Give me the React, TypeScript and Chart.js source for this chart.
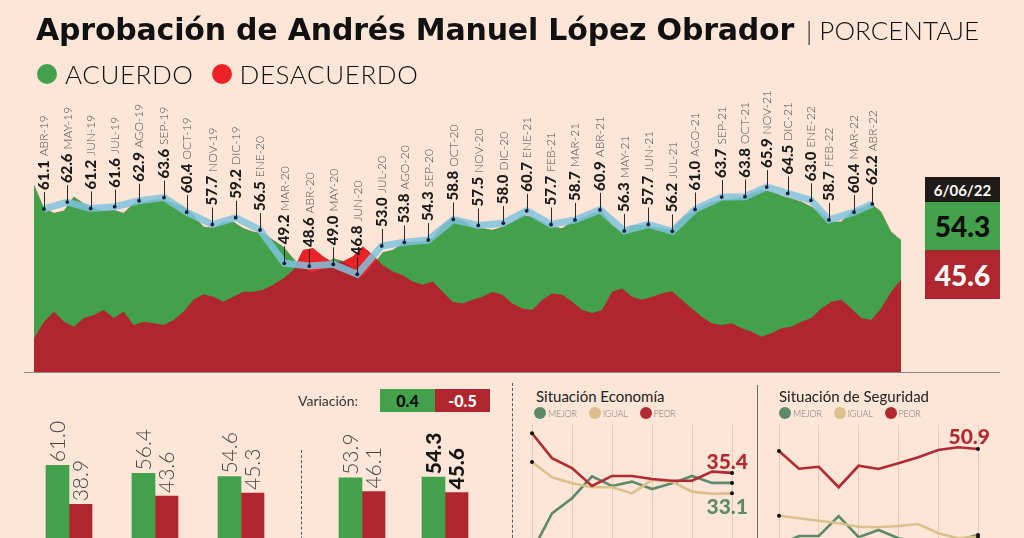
import React, { useEffect, useRef } from 'react';
import { Chart, registerables } from 'chart.js';

Chart.register(...registerables);

// ---------------- DATA ----------------
// Seguimiento diario (muestreado) de aprobación / desaprobación
const acuerdo = [
  66.4, 61.3, 60.2, 60.7, 63.8, 62.3, 61.3, 60.7, 60.9, 60.2, 62.3, 62.7, 63.1, 63.3, 62.3, 61.6, 59.8, 57.2, 57.0, 58.3, 58.3, 56.9,
  56.1, 55.8, 54.3, 52.9, 50.3, 48.1, 47.0, 48.1, 50.3, 49.7, 48.1, 46.3, 48.8, 51.6, 52.1, 53.6, 53.9, 53.9, 54.7, 57.6, 59.1, 58.7,
  57.2, 56.9, 56.5, 57.2, 58.3, 59.8, 59.4, 58.3, 57.2, 56.9, 58.3, 59.1, 60.2, 60.5, 57.6, 56.1, 57.6, 57.6, 57.2, 56.9, 56.5, 59.1,
  60.5, 61.6, 62.7, 63.1, 63.3, 63.6, 64.5, 65.3, 64.9, 64.0, 63.4, 62.7, 61.6, 60.2, 58.3, 58.3, 60.5, 61.3, 62.3, 60.5, 56.1, 54.3,
];
const desacuerdo = [
  32.8, 36.4, 38.6, 36.4, 35.3, 37.2, 37.9, 39.0, 37.2, 38.6, 35.7, 36.4, 36.1, 35.7, 36.8, 38.6, 41.2, 42.4, 41.9, 40.8, 41.9, 43.0,
  43.0, 43.4, 44.5, 45.9, 47.7, 52.1, 52.5, 50.7, 49.4, 49.6, 50.7, 52.9, 51.0, 48.8, 47.4, 46.6, 45.2, 44.5, 45.2, 43.0, 40.8, 40.4,
  41.2, 41.9, 43.0, 42.3, 40.4, 39.3, 39.0, 41.2, 42.6, 42.3, 40.8, 39.0, 38.3, 39.0, 43.0, 43.7, 41.9, 41.2, 41.9, 42.6, 43.1, 41.2,
  39.3, 37.5, 36.1, 35.7, 36.1, 35.0, 34.2, 33.1, 33.9, 35.0, 35.3, 36.4, 37.2, 39.3, 40.8, 41.2, 39.3, 37.2, 36.8, 39.3, 43.0, 45.6,
];

// Encuesta mensual
const mesesEncuesta = [
  'ABR-19', 'MAY-19', 'JUN-19', 'JUL-19', 'AGO-19', 'SEP-19', 'OCT-19', 'NOV-19', 'DIC-19', 'ENE-20',
  'MAR-20', 'ABR-20', 'MAY-20', 'JUN-20', 'JUL-20', 'AGO-20', 'SEP-20', 'OCT-20', 'NOV-20', 'DIC-20',
  'ENE-21', 'FEB-21', 'MAR-21', 'ABR-21', 'MAY-21', 'JUN-21', 'JUL-21', 'AGO-21', 'SEP-21', 'OCT-21',
  'NOV-21', 'DIC-21', 'ENE-22', 'FEB-22', 'MAR-22', 'ABR-22',
];
const aprobacionMensual = [
  61.1, 62.6, 61.2, 61.6, 62.9, 63.6, 60.4, 57.7, 59.2, 56.5,
  49.2, 48.6, 49.0, 46.8, 53.0, 53.8, 54.3, 58.8, 57.5, 58.0,
  60.7, 57.7, 58.7, 60.9, 56.3, 57.7, 56.2, 61.0, 63.7, 63.8,
  65.9, 64.5, 63.0, 58.7, 60.4, 62.2,
];
// periodo del seguimiento en que se levantó cada encuesta
const encuestaPeriodo = [
  1.0, 3.34, 5.69, 8.1, 10.54, 13.04, 15.32, 17.89, 20.24, 22.68,
  25.12, 27.62, 30.03, 32.44, 34.89, 37.16, 39.56, 42.07, 44.58, 47.09,
  49.44, 51.88, 54.28, 56.79, 59.23, 61.64, 64.05, 66.33, 69.0, 71.34,
  73.52, 75.63, 77.96, 79.77, 82.28, 84.12,
];

const fechaCorte = '6/06/22';
const ultimoAcuerdo = 54.3;
const ultimoDesacuerdo = 45.6;
const variacionAcuerdo = '0.4';
const variacionDesacuerdo = '-0.5';

// Barras comparativas
const periodosBarras = ['Periodo 1', 'Periodo 2', 'Periodo 3', 'Periodo 4', 'Periodo 5'];
const barrasAcuerdo = [61.0, 56.4, 54.6, 53.9, 54.3];
const barrasDesacuerdo = [38.9, 43.6, 45.3, 46.1, 45.6];

// Situación economía / seguridad
const sondeos = ['1', '2', '3', '4', '5', '6', '7', '8', '9', '10', '11'];
const econMejor = [17.3, 26.1, 29.6, 34.6, 32.4, 33.4, 31.7, 33.0, 34.7, 33.1, 33.1];
const econIgual = [37.9, 34.4, 33.0, 32.1, 32.1, 30.7, 33.8, 33.4, 31.1, 30.6, 30.7];
const econPeor = [44.5, 38.8, 36.5, 32.4, 34.7, 34.7, 34.0, 33.6, 33.6, 35.7, 35.4];
const segMejor = [12.5, 16.1, 16.1, 24.1, 15.6, 18.5, 15.2, 13.5, 13.0, 14.5, 16.5];
const segIgual = [24.2, 23.2, 22.2, 21.2, 19.8, 19.6, 20.1, 20.9, 17.2, 15.2, 15.8];
const segPeor = [50.1, 43.0, 43.8, 35.6, 44.2, 42.9, 45.2, 47.6, 50.5, 51.6, 50.9];

// ---------------- STYLE ----------------
const BG = '#fde6d7';
const VERDE = '#43a04b';
const ROJO = '#b0262e';
const ROJO_VIVO = '#ec2227';
const AZUL = 'rgba(128,194,222,0.85)';
const C_MEJOR = '#5f8a6a';
const C_IGUAL = '#dcc08b';
const C_PEOR = '#b22a31';
const FONT = 'Lato, "Noto Sans", sans-serif';
const TITLE_FONT = '"DejaVu Sans", Lato, sans-serif';

function ChartCanvas({ make, left, top, width, height }: any) {
  const ref = useRef<HTMLCanvasElement>(null);
  useEffect(() => {
    const c = new Chart(ref.current as HTMLCanvasElement, make());
    return () => c.destroy();
  }, []);
  return (
    <canvas
      ref={ref}
      width={width}
      height={height}
      style={{ position: 'absolute', left, top, width, height }}
    />
  );
}

const ejePlugin = {
  id: 'ejeBase',
  afterDraw(chart: any) {
    const { ctx, chartArea } = chart;
    ctx.save();
    ctx.strokeStyle = '#8d8682';
    ctx.lineWidth = 1;
    ctx.beginPath();
    ctx.moveTo(chartArea.left, chartArea.bottom + 0.5);
    ctx.lineTo(chartArea.right, chartArea.bottom + 0.5);
    ctx.stroke();
    ctx.restore();
  },
};

const etiquetasPlugin = {
  id: 'etiquetasMes',
  afterDatasetsDraw(chart: any) {
    const meta = chart.getDatasetMeta(3);
    const ctx = chart.ctx;
    ctx.save();
    meta.data.forEach((pt: any, i: number) => {
      const x = pt.x;
      const y = pt.y;
      ctx.strokeStyle = '#2a2a2a';
      ctx.lineWidth = 1;
      ctx.beginPath();
      ctx.moveTo(Math.round(x) + 0.5, y);
      ctx.lineTo(Math.round(x) + 0.5, y - 17);
      ctx.stroke();
      ctx.fillStyle = '#14233a';
      ctx.beginPath();
      ctx.arc(x, y, 1.9, 0, Math.PI * 2);
      ctx.fill();
      ctx.save();
      ctx.translate(x, y - 19);
      ctx.rotate(-Math.PI / 2);
      ctx.textAlign = 'left';
      ctx.textBaseline = 'middle';
      ctx.font = `900 15px ${FONT}`;
      ctx.fillStyle = '#1a1a1a';
      const v = aprobacionMensual[i].toFixed(1);
      ctx.fillText(v, 0, 0);
      const w = ctx.measureText(v).width;
      ctx.font = `300 12px ${FONT}`;
      ctx.fillStyle = '#4a4a4a';
      ctx.fillText(mesesEncuesta[i], w + 4, 0.5);
      ctx.restore();
    });
    ctx.restore();
  },
};

const STEP = 9.966;
function mainConfig(): any {
  return {
    type: 'line',
    data: {
      datasets: [
        {
          label: 'Acuerdo',
          data: acuerdo.map((v, i) => ({ x: i, y: v })),
          backgroundColor: VERDE,
          borderColor: 'rgba(0,0,0,0)',
          borderWidth: 0,
          pointRadius: 0,
          fill: 'start',
          order: 4,
        },
        {
          label: 'Desacuerdo',
          data: desacuerdo.map((v, i) => ({ x: i, y: v })),
          backgroundColor: ROJO,
          borderColor: 'rgba(0,0,0,0)',
          borderWidth: 0,
          pointRadius: 0,
          fill: 'start',
          order: 3,
        },
        {
          label: 'Desacuerdo mayor',
          data: desacuerdo.map((v, i) => ({ x: i, y: v })),
          borderColor: 'rgba(0,0,0,0)',
          borderWidth: 0,
          pointRadius: 0,
          fill: { target: 0, above: ROJO_VIVO, below: 'rgba(0,0,0,0)' },
          order: 2,
        },
        {
          label: 'Aprobación mensual',
          data: encuestaPeriodo.map((x, i) => ({ x, y: aprobacionMensual[i] })),
          borderColor: AZUL,
          borderWidth: 7,
          pointRadius: 0,
          fill: false,
          order: 1,
        },
      ],
    },
    options: {
      animation: false,
      responsive: false,
      layout: { padding: { left: 24, right: 24, top: 98, bottom: 8 } },
      elements: { line: { tension: 0 } },
      plugins: { legend: { display: false }, tooltip: { enabled: false } },
      scales: {
        x: { type: 'linear', display: false, min: -10 / STEP, max: 966 / STEP },
        y: { display: false, min: 25.4, max: 85.4 },
      },
    },
    plugins: [ejePlugin, etiquetasPlugin],
  };
}

function barLabelPlugin(boldIndex: number) {
  return {
    id: 'barLabels',
    afterDatasetsDraw(chart: any) {
      const ctx = chart.ctx;
      ctx.save();
      chart.data.datasets.forEach((ds: any, di: number) => {
        const meta = chart.getDatasetMeta(di);
        meta.data.forEach((bar: any, i: number) => {
          const bold = i === boldIndex;
          ctx.save();
          ctx.translate(bar.x, bar.y - 3);
          ctx.rotate(-Math.PI / 2);
          ctx.textAlign = 'left';
          ctx.textBaseline = 'middle';
          ctx.font = bold ? `900 21px ${FONT}` : `300 21px ${FONT}`;
          ctx.fillStyle = bold ? '#151515' : '#444';
          ctx.fillText(Number(ds.data[i]).toFixed(1), 0, 1);
          ctx.restore();
        });
      });
      ctx.restore();
    },
  };
}

function barConfig(from: number, to: number, padL: number, padR: number, boldIndex: number): any {
  return {
    type: 'bar',
    data: {
      labels: periodosBarras.slice(from, to),
      datasets: [
        { label: 'Acuerdo', data: barrasAcuerdo.slice(from, to), backgroundColor: VERDE, barThickness: 23 },
        { label: 'Desacuerdo', data: barrasDesacuerdo.slice(from, to), backgroundColor: ROJO, barThickness: 23 },
      ],
    },
    options: {
      animation: false,
      responsive: false,
      layout: { padding: { left: padL, right: padR, top: 20, bottom: 7 } },
      plugins: { legend: { display: false }, tooltip: { enabled: false } },
      scales: {
        x: { display: false },
        y: { display: false, min: 0, max: 98 },
      },
    },
    plugins: [barLabelPlugin(boldIndex)],
  };
}

function lineConfig(mejor: number[], igual: number[], peor: number[], min: number, max: number, padL: number, padR: number): any {
  const mk = (label: string, data: number[], color: string) => ({
    label,
    data,
    borderColor: color,
    borderWidth: 2.6,
    pointRadius: (c: any) => (c.dataIndex === 0 || c.dataIndex === data.length - 1 ? 2 : 0),
    pointBackgroundColor: '#111',
    pointBorderWidth: 0,
    fill: false,
    tension: 0,
  });
  return {
    type: 'line',
    data: {
      labels: sondeos,
      datasets: [mk('Peor', peor, C_PEOR), mk('Igual', igual, C_IGUAL), mk('Mejor', mejor, C_MEJOR)],
    },
    options: {
      animation: false,
      responsive: false,
      layout: { padding: { left: padL, right: padR, top: 5, bottom: 10 } },
      plugins: { legend: { display: false }, tooltip: { enabled: false } },
      scales: {
        x: {
          display: true,
          ticks: { display: false },
          border: { display: false },
          grid: {
            drawTicks: false,
            lineWidth: 1,
            color: (c: any) => (c.index % 2 === 0 ? '#e8cbb9' : 'rgba(0,0,0,0)'),
          },
        },
        y: { display: false, min, max },
      },
    },
  };
}

function Dot({ color, size }: any) {
  return (
    <span
      style={{
        display: 'inline-block',
        width: size,
        height: size,
        borderRadius: '50%',
        background: color,
        verticalAlign: 'middle',
        flex: 'none',
      }}
    />
  );
}

function MiniLegend({ left, top }: any) {
  const item = (c: string, t: string) => (
    <span style={{ marginRight: 12, display: 'inline-flex', alignItems: 'center' }}>
      <Dot color={c} size={12} />
      <span style={{ fontSize: 9, fontWeight: 300, color: '#7a7a7a', marginLeft: 2, letterSpacing: -0.2 }}>{t}</span>
    </span>
  );
  return (
    <div style={{ position: 'absolute', left, top, display: 'flex', whiteSpace: 'nowrap' }}>
      {item(C_MEJOR, 'MEJOR')}
      {item(C_IGUAL, 'IGUAL')}
      {item(C_PEOR, 'PEOR')}
    </div>
  );
}

export default function App() {
  const abs = (s: any) => ({ position: 'absolute' as const, ...s });
  return (
    <div
      style={{
        position: 'fixed',
        left: 0,
        top: 0,
        width: 1024,
        height: 538,
        overflow: 'hidden',
        background: BG,
        fontFamily: FONT,
        color: '#111',
      }}
    >
      <ChartCanvas make={mainConfig} left={0} top={0} width={1024} height={380} />

      <div style={abs({ left: 36, top: 10, whiteSpace: 'nowrap', lineHeight: '40px', display: 'flex', alignItems: 'baseline' })}>
        <span style={{ fontFamily: TITLE_FONT, fontSize: 30, fontWeight: 700, letterSpacing: -0.2 }}>
          Aprobación de Andrés Manuel López Obrador
        </span>
        <span style={{ fontSize: 26, fontWeight: 300, marginLeft: 12 }}>| PORCENTAJE</span>
      </div>

      <div style={abs({ left: 37, top: 58, display: 'flex', alignItems: 'center', whiteSpace: 'nowrap' })}>
        <Dot color={VERDE} size={20} />
        <span style={{ fontSize: 26, fontWeight: 300, marginLeft: 8, marginRight: 18, letterSpacing: 0.6 }}>ACUERDO</span>
        <Dot color={ROJO_VIVO} size={20} />
        <span style={{ fontSize: 26, fontWeight: 300, marginLeft: 8, letterSpacing: 0.6 }}>DESACUERDO</span>
      </div>

      <div
        style={abs({
          left: 925, top: 177, width: 75, height: 25, background: '#1e1a17', color: '#fff',
          fontWeight: 700, fontSize: 15, display: 'flex', alignItems: 'center', justifyContent: 'center',
        })}
      >
        {fechaCorte}
      </div>
      <div
        style={abs({
          left: 925, top: 202, width: 75, height: 49, background: VERDE, color: '#0d0d0d',
          fontWeight: 900, fontSize: 28, display: 'flex', alignItems: 'center', justifyContent: 'center',
          boxSizing: 'border-box', borderBottom: '1px solid #7a3a2a',
        })}
      >
        {ultimoAcuerdo.toFixed(1)}
      </div>
      <div
        style={abs({
          left: 925, top: 251, width: 75, height: 48, background: ROJO, color: '#fff',
          fontWeight: 900, fontSize: 28, display: 'flex', alignItems: 'center', justifyContent: 'center',
        })}
      >
        {ultimoDesacuerdo.toFixed(1)}
      </div>

      <ChartCanvas make={() => barConfig(0, 3, 26, 16, -1)} left={0} top={380} width={300} height={200} />
      <ChartCanvas make={() => barConfig(3, 5, 20.5, 13.5, 1)} left={300} top={380} width={200} height={200} />

      <div style={abs({ left: 298, top: 392, fontSize: 14, fontWeight: 400, color: '#333' })}>Variación:</div>
      <div
        style={abs({
          left: 380, top: 389, width: 55, height: 23, background: VERDE, color: '#0d0d0d', fontWeight: 900,
          fontSize: 16, display: 'flex', alignItems: 'center', justifyContent: 'center',
        })}
      >
        {variacionAcuerdo}
      </div>
      <div
        style={abs({
          left: 435, top: 389, width: 55, height: 23, background: ROJO, color: '#fff', fontWeight: 900,
          fontSize: 16, display: 'flex', alignItems: 'center', justifyContent: 'center',
        })}
      >
        {variacionDesacuerdo}
      </div>

      <div style={abs({ left: 301, top: 450, height: 100, borderLeft: '1.5px dashed #555' })} />
      <div style={abs({ left: 512, top: 383, height: 170, borderLeft: '1.5px dashed #555' })} />
      <div style={abs({ left: 757, top: 385, height: 170, borderLeft: '1px solid #6a6a6a' })} />

      <ChartCanvas
        make={() => lineConfig(econMejor, econIgual, econPeor, 15.4, 46.4, 32, 30)}
        left={500} top={420} width={262} height={150}
      />
      <div style={abs({ left: 536, top: 387, fontSize: 15, fontWeight: 400, color: '#222', whiteSpace: 'nowrap' })}>
        Situación Economía
      </div>
      <MiniLegend left={534} top={407} />
      <div style={abs({ left: 690, top: 448, width: 58, textAlign: 'right', fontSize: 21, fontWeight: 900, color: C_PEOR })}>
        {econPeor[econPeor.length - 1].toFixed(1)}
      </div>
      <div style={abs({ left: 690, top: 493, width: 58, textAlign: 'right', fontSize: 21, fontWeight: 900, color: C_MEJOR })}>
        {econMejor[econMejor.length - 1].toFixed(1)}
      </div>

      <ChartCanvas
        make={() => lineConfig(segMejor, segIgual, segPeor, 6.5, 60.5, 19, 46)}
        left={760} top={420} width={264} height={150}
      />
      <div style={abs({ left: 779, top: 387, fontSize: 15, fontWeight: 400, color: '#222', whiteSpace: 'nowrap' })}>
        Situación de Seguridad
      </div>
      <MiniLegend left={779} top={407} />
      <div style={abs({ left: 932, top: 423, width: 58, textAlign: 'right', fontSize: 21, fontWeight: 900, color: C_PEOR })}>
        {segPeor[segPeor.length - 1].toFixed(1)}
      </div>
    </div>
  );
}
